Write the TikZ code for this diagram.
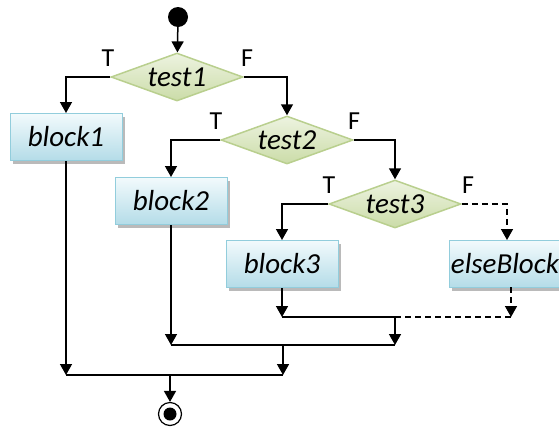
\documentclass[tikz,border=0pt]{standalone}
\usepackage{fontspec}
\setmainfont{Carlito}
\usetikzlibrary{shapes.geometric,arrows.meta,shadows}
\definecolor{blockline}{HTML}{92CDDC}
\definecolor{blocktop}{HTML}{F2FAFC}
\definecolor{blockbot}{HTML}{B4DCE8}
\definecolor{testline}{HTML}{B9CF8E}
\definecolor{testtop}{HTML}{EDF3E0}
\definecolor{testbot}{HTML}{CBDCA8}
\begin{document}
\begin{tikzpicture}[
            x=1pt, y=-1pt,
            block node/.style={rectangle,draw=blockline,line width=1pt,top color=blocktop,bottom color=blockbot,
                drop shadow={shadow xshift=3pt,shadow yshift=-3pt,fill=black!45,opacity=.6},
                font=\fontsize{29}{31}\selectfont\itshape,minimum width=112pt,minimum height=47pt,inner sep=0pt},
            test node/.style={diamond,draw=testline,line width=1.5pt,top color=testtop,bottom color=testbot,
                font=\fontsize{29}{31}\selectfont\itshape,minimum width=132pt,minimum height=48pt,inner sep=0pt,aspect=2.7},
            label node/.style={font=\fontsize{26}{28}\selectfont},
            flow/.style={draw,line width=1.5pt,-{Triangle[length=11pt,width=12pt]}},
            line/.style={draw,line width=1.5pt},
            dashed flow/.style={flow,dash pattern=on 6pt off 4pt},
            dashed line/.style={line,dash pattern=on 6pt off 4pt},
        ]
            \useasboundingbox (0,0) rectangle (559,426);

            \node[circle,fill=black,minimum size=20pt,inner sep=0pt] (start) at (178,17) {};
            \node[test node] (test1) at (177,77) {test1};
            \node[test node] (test2) at (287,140) {test2};
            \node[test node] (test3) at (395,204) {test3};

            \node[block node] (block1) at (66,137) {block1};
            \node[block node] (block2) at (171,201) {block2};
            \node[block node] (block3) at (282,264) {block3};
            \node[block node] (else) at (505,264) {elseBlock};

            \node[label node] (t1T) at (108,58) {T};
            \node[label node] (t1F) at (247,58) {F};
            \node[label node] (t2T) at (216,121) {T};
            \node[label node] (t2F) at (354,121) {F};
            \node[label node] (t3T) at (329,185) {T};
            \node[label node] (t3F) at (468,185) {F};

            \node[circle,draw,line width=1.2pt,minimum size=23pt,inner sep=0pt] (end) at (170,414) {};
            \fill (end.center) circle (6.5pt);

            \coordinate (m3) at (395,317);
            \coordinate (m2) at (395,345);
            \coordinate (j2) at (283,345);
            \coordinate (m1) at (283,375);
            \coordinate (j1) at (170,375);
            \coordinate (eb) at (511,287);

            \path[flow] (start) -- (test1);
            \path[flow] (test1.west) -| (block1.north);
            \path[flow] (test1.east) -| (test2.north);
            \path[flow] (test2.west) -| (block2.north);
            \path[flow] (test2.east) -| (test3.north);
            \path[flow] (test3.west) -| (block3.north);
            \path[dashed flow] (test3.east) -| ([xshift=2pt]else.north);

            \path[flow] (block3.south) -- (block3.south |- m3);
            \path[line] (block3.south |- m3) -- (m3);
            \path[dashed flow] (eb) -- (eb |- m3);
            \path[dashed line] (m3) -- (eb |- m3);

            \path[flow] (m3) -- (m2);
            \path[flow] (block2.south) -- (block2.south |- m2);
            \path[line] (block2.south |- m2) -- (m2);

            \path[flow] (j2) -- (m1);
            \path[flow] (block1.south) -- (block1.south |- m1);
            \path[line] (block1.south |- m1) -- (m1);

            \path[flow] (j1) -- (end);
        \end{tikzpicture}
\end{document}
